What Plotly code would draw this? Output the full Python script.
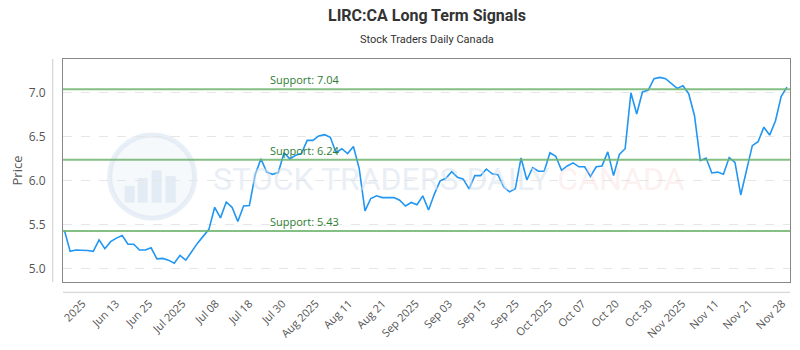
import plotly.graph_objects as go

# ---- data ----
prices = [
    5.44, 5.20, 5.215, 5.215, 5.21, 5.20, 5.33, 5.23, 5.31, 5.35,
    5.38, 5.28, 5.28, 5.215, 5.215, 5.24, 5.115, 5.12, 5.10, 5.065,
    5.155, 5.10, 5.20, 5.29, 5.37, 5.45, 5.70, 5.58, 5.76, 5.70,
    5.54, 5.715, 5.72, 6.07, 6.25, 6.10, 6.075, 6.095, 6.32, 6.25,
    6.29, 6.31, 6.46, 6.46, 6.51, 6.525, 6.495, 6.32, 6.365, 6.31,
    6.39, 6.14, 5.66, 5.80, 5.83, 5.81, 5.81, 5.81, 5.78, 5.715,
    5.755, 5.73, 5.83, 5.67, 5.85, 6.00, 6.03, 6.105, 6.04, 6.02,
    5.91, 6.06, 6.06, 6.135, 6.08, 6.07, 5.93, 5.875, 5.91, 6.26,
    6.01, 6.15, 6.11, 6.11, 6.32, 6.28, 6.12, 6.17, 6.205, 6.16,
    6.16, 6.05, 6.16, 6.17, 6.33, 6.06, 6.30, 6.365, 7.00, 6.76,
    7.01, 7.03, 7.16, 7.175, 7.16, 7.11, 7.05, 7.08, 6.99, 6.74,
    6.23, 6.26, 6.09, 6.10, 6.075, 6.265, 6.21, 5.84, 6.12, 6.40,
    6.445, 6.61, 6.52, 6.68, 6.96, 7.065,
]
index = list(range(len(prices)))

tick_text = ["2025", "Jun 13", "Jun 25", "Jul 2025", "Jul 08", "Jul 18", "Jul 30",
             "Aug 2025", "Aug 11", "Aug 21", "Sep 2025", "Sep 03", "Sep 15", "Sep 25",
             "Oct 2025", "Oct 07", "Oct 20", "Oct 30", "Nov 2025", "Nov 11", "Nov 21",
             "Nov 28"]
tick_pos = [3.16, 8.92, 14.69, 20.45, 26.21, 31.98, 37.74, 43.50, 49.26, 55.03,
            60.79, 66.55, 72.32, 78.08, 83.84, 89.61, 95.37, 101.13, 106.89,
            112.66, 118.42, 124.18]

support_levels = [7.04, 6.24, 5.43]
y_ticks = [5.0, 5.5, 6.0, 6.5, 7.0]

title = "LIRC:CA Long Term Signals"
subtitle = "Stock Traders Daily Canada"

# ---- figure ----
fig = go.Figure()
fig.add_trace(go.Scatter(x=index, y=prices, mode="lines",
                         line=dict(color="#2196F3", width=1.6),
                         hoverinfo="skip", showlegend=False))

shapes = []
annotations = []

# watermark (decorative)
def px_to_paper(px, py):
    return (px - 63.3) / 727.4, (286 - py) / 227.5

cx0, cy0 = px_to_paper(110, 136)
cx1, cy1 = px_to_paper(195, 221)
shapes.append(dict(type="circle", xref="paper", yref="paper", x0=cx0, y0=cy1, x1=cx1, y1=cy0,
                   line=dict(color="rgba(215,225,238,0.55)", width=5),
                   fillcolor="rgba(236,241,248,0.45)", layer="below"))
for bx, top in [(125, 188), (138, 180), (152, 172), (166, 178)]:
    x0p, y0p = px_to_paper(bx, 205)
    x1p, y1p = px_to_paper(bx + 10, top)
    shapes.append(dict(type="rect", xref="paper", yref="paper", x0=x0p, y0=y0p, x1=x1p, y1=y1p,
                       line=dict(width=0), fillcolor="rgba(215,225,238,0.6)", layer="below"))

wx, wy = px_to_paper(450, 181)
annotations.append(dict(
    xref="paper", yref="paper", x=wx, y=wy, xanchor="center", yanchor="middle",
    text="STOCK TRADERS DAILY <span style='color:rgba(250,205,205,0.55)'>CANADA</span>",
    showarrow=False, font=dict(family="Roboto", size=32, color="rgba(215,225,238,0.55)")))

for lvl in support_levels:
    shapes.append(dict(type="line", xref="paper", yref="y", x0=0, x1=1, y0=lvl, y1=lvl,
                       line=dict(color="rgba(110,180,110,0.85)", width=2), layer="above"))
    annotations.append(dict(xref="paper", yref="y", x=0.2815, y=lvl, xanchor="left",
                            yanchor="bottom", yshift=0, showarrow=False,
                            text=f"Support: {lvl:.2f}",
                            font=dict(family="Open Sans", size=11, color="#2e7d32")))

# outer light axis lines
lx, _ = px_to_paper(53, 0)
_, ly = px_to_paper(0, 296.5)
shapes.append(dict(type="line", xref="paper", yref="paper", x0=lx, x1=lx, y0=0, y1=1,
                   line=dict(color="#cccccc", width=1)))
shapes.append(dict(type="line", xref="paper", yref="paper", x0=0, x1=1, y0=ly, y1=ly,
                   line=dict(color="#cccccc", width=1)))

annotations.append(dict(xref="paper", yref="paper", x=0.5, y=1, xanchor="center",
                        yanchor="bottom", yshift=32, showarrow=False,
                        text=f"<b>{title}</b>",
                        font=dict(family="Roboto", size=16, color="#333333")))
annotations.append(dict(xref="paper", yref="paper", x=0.5, y=1, xanchor="center",
                        yanchor="bottom", yshift=11, showarrow=False, text=subtitle,
                        font=dict(family="Roboto", size=11, color="#333333")))

fig.update_layout(
    width=800, height=350,
    margin=dict(l=63.3, r=9.3, t=58.5, b=64),
    paper_bgcolor="white", plot_bgcolor="white",
    shapes=shapes, annotations=annotations,
    xaxis=dict(range=[-0.24, 125.52], tickmode="array", tickvals=tick_pos,
               ticktext=tick_text, tickangle=-45, showgrid=False, zeroline=False,
               showline=True, mirror=True, linecolor="#888888", linewidth=1,
               ticks="outside", ticklen=10, tickcolor="rgba(0,0,0,0)",
               tickfont=dict(family="Open Sans", size=11, color="#555555")),
    yaxis=dict(range=[4.852, 7.384], tickmode="array", tickvals=y_ticks,
               tickformat=".1f", showgrid=True, gridcolor="#e6e6e6", griddash="dash",
               zeroline=False, showline=True, mirror=True, linecolor="#888888",
               linewidth=1, ticks="outside", ticklen=14, tickcolor="rgba(0,0,0,0)",
               tickfont=dict(family="Open Sans", size=12, color="#555555"),
               title=dict(text="Price", standoff=3,
                          font=dict(family="Open Sans", size=13, color="#555555"))),
)

fig.write_html("out.html")
